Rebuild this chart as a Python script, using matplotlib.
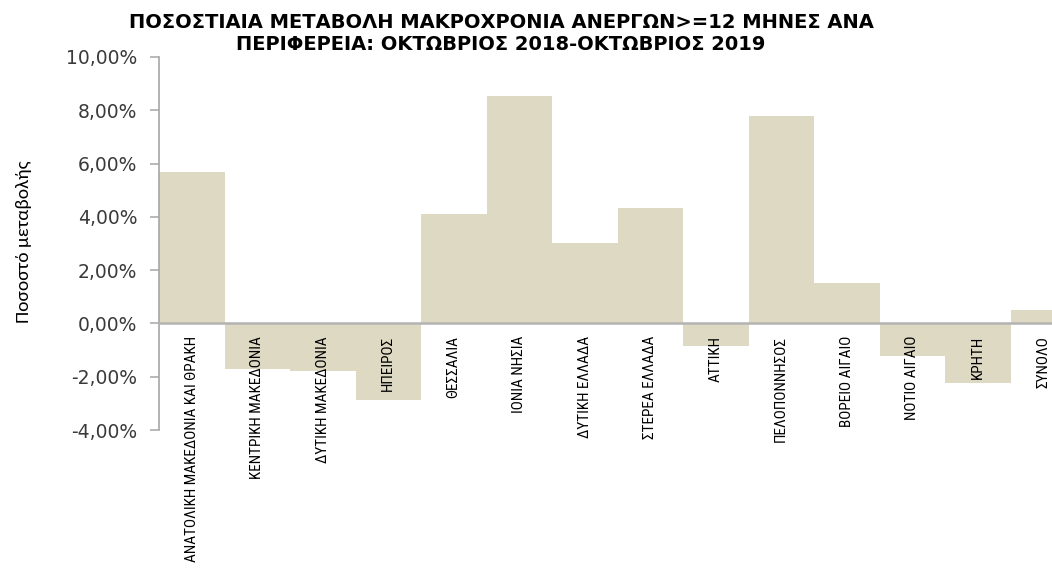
import matplotlib
matplotlib.use("Agg")
import matplotlib.pyplot as plt
from matplotlib.ticker import FuncFormatter, MultipleLocator

regions = [
    "ΑΝΑΤΟΛΙΚΗ ΜΑΚΕΔΟΝΙΑ ΚΑΙ ΘΡΑΚΗ", "ΚΕΝΤΡΙΚΗ ΜΑΚΕΔΟΝΙΑ", "ΔΥΤΙΚΗ ΜΑΚΕΔΟΝΙΑ",
    "ΗΠΕΙΡΟΣ", "ΘΕΣΣΑΛΙΑ", "ΙΟΝΙΑ ΝΗΣΙΑ", "ΔΥΤΙΚΗ ΕΛΛΑΔΑ", "ΣΤΕΡΕΑ ΕΛΛΑΔΑ",
    "ΑΤΤΙΚΗ", "ΠΕΛΟΠΟΝΝΗΣΟΣ", "ΒΟΡΕΙΟ ΑΙΓΑΙΟ", "ΝΟΤΙΟ ΑΙΓΑΙΟ", "ΚΡΗΤΗ", "ΣΥΝΟΛΟ",
]
change_pct = [5.67, -1.70, -1.78, -2.89, 4.12, 8.52, 3.01, 4.35,
              -0.86, 7.77, 1.52, -1.24, -2.22, 0.49]

title_lines = ["ΠΟΣΟΣΤΙΑΙΑ ΜΕΤΑΒΟΛΗ ΜΑΚΡΟΧΡΟΝΙΑ ΑΝΕΡΓΩΝ>=12 ΜΗΝΕΣ ΑΝΑ",
               "ΠΕΡΙΦΕΡΕΙΑ: ΟΚΤΩΒΡΙΟΣ 2018-ΟΚΤΩΒΡΙΟΣ 2019"]
ylabel = "Ποσοστό μεταβολής"

calibri = ["Carlito", "DejaVu Sans"]
narrow = ["Roboto Condensed", "Carlito", "DejaVu Sans"]

fig = plt.figure(figsize=(10.52, 5.69), dpi=100)
# plot area runs past the right edge of the picture, as in the original
ax = fig.add_axes([159 / 1052, 1 - 430 / 569, 917 / 1052, 373 / 569])

x = list(range(len(regions)))
ax.bar(x, change_pct, width=1.0, align="edge", color="#DDD9C3", linewidth=0)

ax.set_xlim(0, len(regions))
ax.set_ylim(-4, 10)
ax.yaxis.set_major_locator(MultipleLocator(2))
ax.yaxis.set_major_formatter(FuncFormatter(lambda v, p: f"{v:.2f}%".replace(".", ",")))

for s in ["top", "right"]:
    ax.spines[s].set_visible(False)
ax.spines["left"].set_color("#A6A6A6")
ax.spines["left"].set_linewidth(1.2)
ax.spines["bottom"].set_position(("data", 0))
ax.spines["bottom"].set_color("#B3B3B3")
ax.spines["bottom"].set_linewidth(1.8)

ax.tick_params(axis="y", length=6.5, width=1.1, color="#A6A6A6", labelsize=13.5,
               labelcolor="#3A3A3A", pad=9)
ax.set_xticks([i + 0.5 for i in x])
ax.set_xticklabels(regions, rotation=90, va="top", ha="center",
                   family=narrow, fontsize=11, color="#000000")
ax.tick_params(axis="x", length=0, pad=9)

ax.set_ylabel(ylabel, family=calibri, fontsize=14)
ax.yaxis.set_label_coords(-127 / 917, 1 - (242 - 57) / 373)

# two title lines placed separately to get the tight line spacing
for line, base in zip(title_lines, [28, 50]):
    fig.text(501 / 1052, 1 - base / 569, line, ha="center", va="baseline",
             family="DejaVu Sans", fontweight="bold", fontsize=14)

fig.savefig("out.png", dpi=100)
